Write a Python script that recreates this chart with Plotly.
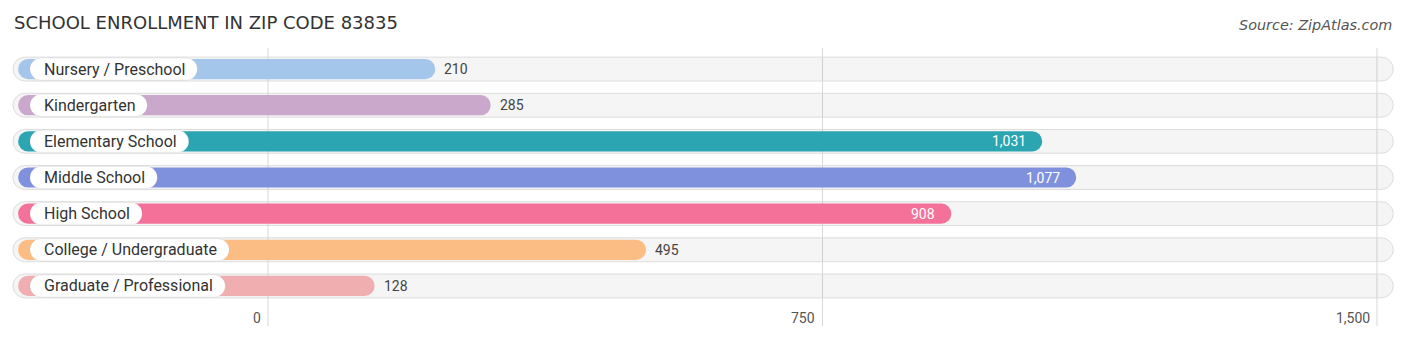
import plotly.graph_objects as go

# ---------------- data ----------------
categories = ["Nursery / Preschool", "Kindergarten", "Elementary School", "Middle School",
              "High School", "College / Undergraduate", "Graduate / Professional"]
values = [210, 285, 1031, 1077, 908, 495, 128]
colors = ["#a3c6ea", "#c9a8cc", "#2ba5b2", "#7f91dd", "#f4719a", "#fcbd84", "#f0aeb0"]
tick_values = [0, 750, 1500]
tick_labels = ["0", "750", "1,500"]
title_text = "SCHOOL ENROLLMENT IN ZIP CODE 83835"
source_text = "Source: ZipAtlas.com"

# ---------------- layout constants ----------------
W, H = 1406, 342
X_MIN, X_MAX = -362.5, 1539.3
SCALE = W / (X_MAX - X_MIN)          # px per data unit
TRACK_START, TRACK_END = -345, 1522
BAR_START = -338
BAR_CAP = 12 / SCALE                  # bar visually extends past value
PILL_START = -322
LABEL_FONT = 16

# approximate Roboto advance widths (em)
CW = {'a': .544, 'b': .561, 'c': .523, 'd': .564, 'e': .530, 'f': .347, 'g': .561, 'h': .551,
      'i': .243, 'j': .239, 'k': .507, 'l': .243, 'm': .876, 'n': .552, 'o': .570, 'p': .561,
      'q': .568, 'r': .338, 's': .516, 't': .327, 'u': .551, 'v': .484, 'w': .751, 'x': .496,
      'y': .473, 'z': .496, 'C': .652, 'E': .568, 'G': .681, 'H': .713, 'K': .627, 'M': .873,
      'N': .713, 'P': .631, 'S': .615, 'U': .648, ' ': .248, '/': .412}


def text_px(s, size):
    return sum(CW.get(ch, .56) for ch in s) * size


n = len(categories)
ys = list(range(n))

PLOT_TOP, PLOT_BOTTOM = 51, 304
ph = PLOT_BOTTOM - PLOT_TOP


def py_to_paper(py):
    return (PLOT_BOTTOM - py) / ph


fig = go.Figure()

# background tracks
fig.add_trace(go.Bar(
    y=ys, x=[TRACK_END - TRACK_START] * n, base=[TRACK_START] * n, orientation="h",
    width=0.66, marker=dict(color="rgba(0,0,0,0.04)", cornerradius=12,
                            line=dict(color="#dcdcdc", width=1)),
    hoverinfo="skip", showlegend=False))

# value bars
fig.add_trace(go.Bar(
    y=ys, x=[v + BAR_CAP - BAR_START for v in values], base=[BAR_START] * n, orientation="h",
    width=0.56, marker=dict(color=colors, cornerradius=10, line=dict(width=0)),
    hoverinfo="skip", showlegend=False))

# white label pills
pill_w = [(text_px(c, LABEL_FONT) + 26) / SCALE for c in categories]
fig.add_trace(go.Bar(
    y=ys, x=pill_w, base=[PILL_START] * n, orientation="h",
    width=0.61, marker=dict(color="white", cornerradius=11,
                            line=dict(color="rgba(0,0,0,0.06)", width=1)),
    hoverinfo="skip", showlegend=False))

annotations = []
for i, (c, v) in enumerate(zip(categories, values)):
    annotations.append(dict(x=PILL_START, y=i, xref="x", yref="y", text=c, showarrow=False,
                            xanchor="left", yanchor="middle", xshift=12,
                            font=dict(family="Roboto", size=LABEL_FONT, color="#333333")))
    inside = v > 800
    if inside:
        annotations.append(dict(x=v, y=i, xref="x", yref="y", text=f"{v:,}", showarrow=False,
                                xanchor="right", yanchor="middle", xshift=-2,
                                font=dict(family="Roboto", size=14, color="white")))
    else:
        annotations.append(dict(x=v, y=i, xref="x", yref="y", text=f"{v:,}", showarrow=False,
                                xanchor="left", yanchor="middle", xshift=19,
                                font=dict(family="Roboto", size=14, color="#444444")))

for tv, tl in zip(tick_values, tick_labels):
    annotations.append(dict(x=tv, y=py_to_paper(318), xref="x", yref="paper", text=tl,
                            showarrow=False, xanchor="right", yanchor="middle", xshift=-5,
                            font=dict(family="Roboto", size=14, color="#555555")))

annotations.append(dict(x=12 / W, y=py_to_paper(22), xref="paper", yref="paper",
                        text=title_text, showarrow=False, xanchor="left", yanchor="middle",
                        font=dict(family="DejaVu Sans", size=18, color="#333333")))
annotations.append(dict(x=1394 / W, y=py_to_paper(25), xref="paper", yref="paper",
                        text="<i>" + source_text + "</i>", showarrow=False,
                        xanchor="right", yanchor="middle",
                        font=dict(family="DejaVu Sans", size=14.4, color="#555555")))

shapes = []
for tv in tick_values:
    shapes.append(dict(type="line", xref="x", yref="paper", x0=tv, x1=tv,
                       y0=py_to_paper(326), y1=py_to_paper(48),
                       line=dict(color="#d8d8d8", width=1), layer="below"))

fig.update_layout(
    width=W, height=H,
    margin=dict(l=0, r=0, t=PLOT_TOP, b=H - PLOT_BOTTOM),
    paper_bgcolor="white", plot_bgcolor="white",
    barmode="overlay",
    xaxis=dict(range=[X_MIN, X_MAX], showgrid=False, zeroline=False, showticklabels=False,
               fixedrange=True),
    yaxis=dict(range=[n - 0.5, -0.5], showgrid=False, zeroline=False, showticklabels=False,
               fixedrange=True),
    annotations=annotations,
    shapes=shapes,
    showlegend=False,
)

fig.write_html("out.html", config={"displayModeBar": False})
